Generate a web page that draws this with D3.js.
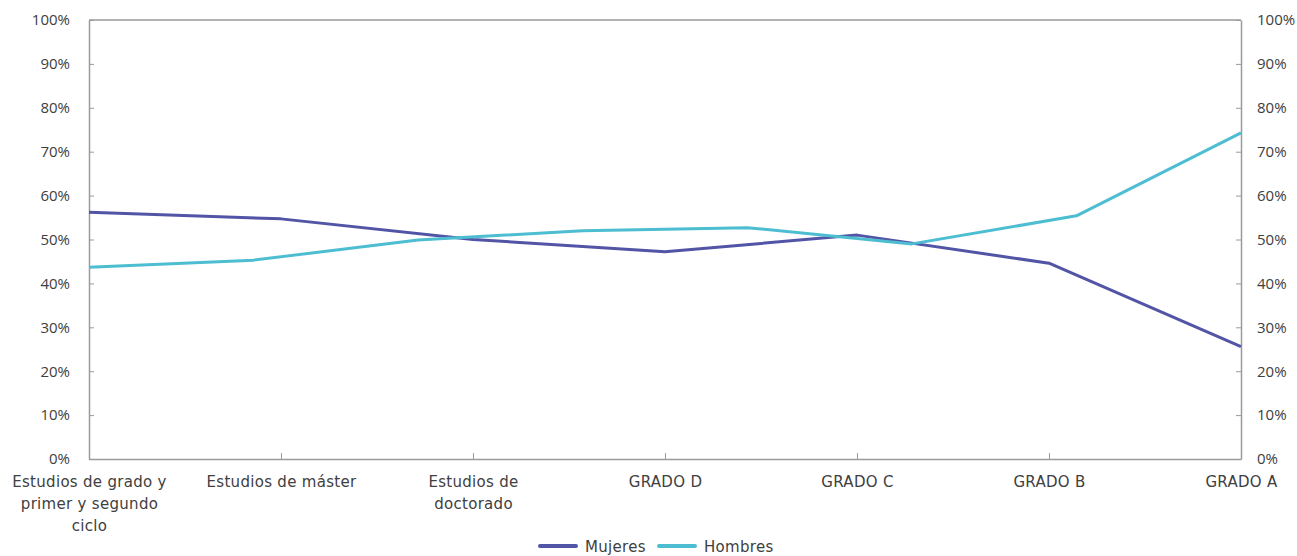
<!DOCTYPE html>
<html><head><meta charset="utf-8">
<script src="https://cdn.jsdelivr.net/npm/d3@7"></script>
<style>
body{margin:0;background:#fff}
text{fill:#404040}
</style>
</head><body>
<svg id="c" width="1297" height="556"></svg>
<script>
const categories = ["Estudios de grado y primer y segundo ciclo","Estudios de máster","Estudios de doctorado","GRADO D","GRADO C","GRADO B","GRADO A"];
const mujeres = [56.2, 54.7, 50.0, 47.2, 51.0, 44.6, 25.6];
const hombres = [43.7, 45.3, 49.9, 52.0, 52.7, 49.0, 55.4, 74.3];
const yTicks = [0,10,20,30,40,50,60,70,80,90,100];
const seriesNames = ["Mujeres","Hombres"];
const seriesColors = ["#5254a6","#4dbdd1"];

const L = 89, R = 1241, T = 20, B = 459;
const svg = d3.select("#c");
const axisColor = "#9a9a9a";
const numFont = "'Open Sans',sans-serif";
const txtFont = "'DejaVu Sans',sans-serif";
const fs = 15;
const tfs = 15;
const ls = "0.3px";

const x = d3.scalePoint().domain(categories).range([L, R]);
const x2 = d3.scalePoint().domain(d3.range(hombres.length)).range([L, R]);
const y = d3.scaleLinear().domain([0,100]).range([B, T]);

// top border
svg.append("line").attr("x1",L).attr("x2",R).attr("y1",T).attr("y2",T)
  .attr("stroke",axisColor).attr("stroke-width",1.5);

function styleAxis(g){
  g.selectAll("path").attr("stroke",axisColor).attr("stroke-width",1.5);
  g.selectAll("line").attr("stroke",axisColor).attr("stroke-width",1);
  g.selectAll("text").attr("font-size",fs).attr("fill","#404040").attr("font-family",numFont);
}

const gl = svg.append("g").attr("transform",`translate(${L},0)`)
  .call(d3.axisLeft(y).tickValues(yTicks).tickFormat(d=>d+"%").tickSizeInner(-5).tickSizeOuter(0).tickPadding(19));
styleAxis(gl);
const gr = svg.append("g").attr("transform",`translate(${R},0)`)
  .call(d3.axisRight(y).tickValues(yTicks).tickFormat(d=>d+"%").tickSizeInner(-5).tickSizeOuter(0).tickPadding(16));
styleAxis(gr);

const gb = svg.append("g").attr("transform",`translate(0,${B})`)
  .call(d3.axisBottom(x).tickSizeInner(-6).tickSizeOuter(0).tickFormat(""));
styleAxis(gb);
gb.selectAll(".tick line").filter((d,i)=> i===0 || i===categories.length-1).remove();

// wrapped category labels
const maxW = 170;
gb.selectAll(".tick").each(function(d){
  const g = d3.select(this);
  g.select("text").remove();
  const t = g.append("text").attr("text-anchor","middle").attr("font-size",tfs)
    .attr("font-family",txtFont).attr("letter-spacing",ls).attr("fill","#404040").attr("y",28);
  const words = d.split(" ");
  let line = [];
  let ts = t.append("tspan").attr("x",0).attr("dy",0);
  words.forEach(w=>{
    line.push(w);
    ts.text(line.join(" "));
    if (ts.node().getComputedTextLength() > maxW && line.length>1){
      line.pop(); ts.text(line.join(" "));
      line=[w];
      ts = t.append("tspan").attr("x",0).attr("dy",22).text(w);
    }
  });
});

// lines
const lineM = d3.line().x((d,i)=>x(categories[i])).y(d=>y(d));
const lineH = d3.line().x((d,i)=>x2(i)).y(d=>y(d));
svg.append("path").datum(mujeres).attr("d",lineM).attr("fill","none")
  .attr("stroke",seriesColors[0]).attr("stroke-width",3).attr("stroke-linejoin","round");
svg.append("path").datum(hombres).attr("d",lineH).attr("fill","none")
  .attr("stroke",seriesColors[1]).attr("stroke-width",3).attr("stroke-linejoin","round");

// legend
const leg = svg.append("g").attr("transform","translate(0,546)");
const legX = [540, 659];
seriesNames.forEach((n,i)=>{
  leg.append("line").attr("x1",legX[i]).attr("x2",legX[i]+36).attr("y1",0).attr("y2",0)
    .attr("stroke",seriesColors[i]).attr("stroke-width",4).attr("stroke-linecap","round");
  leg.append("text").attr("x",legX[i]+45).attr("y",5.5).attr("font-size",tfs)
    .attr("font-family",txtFont).attr("letter-spacing",ls).attr("fill","#404040").text(n);
});
</script>
</body></html>
